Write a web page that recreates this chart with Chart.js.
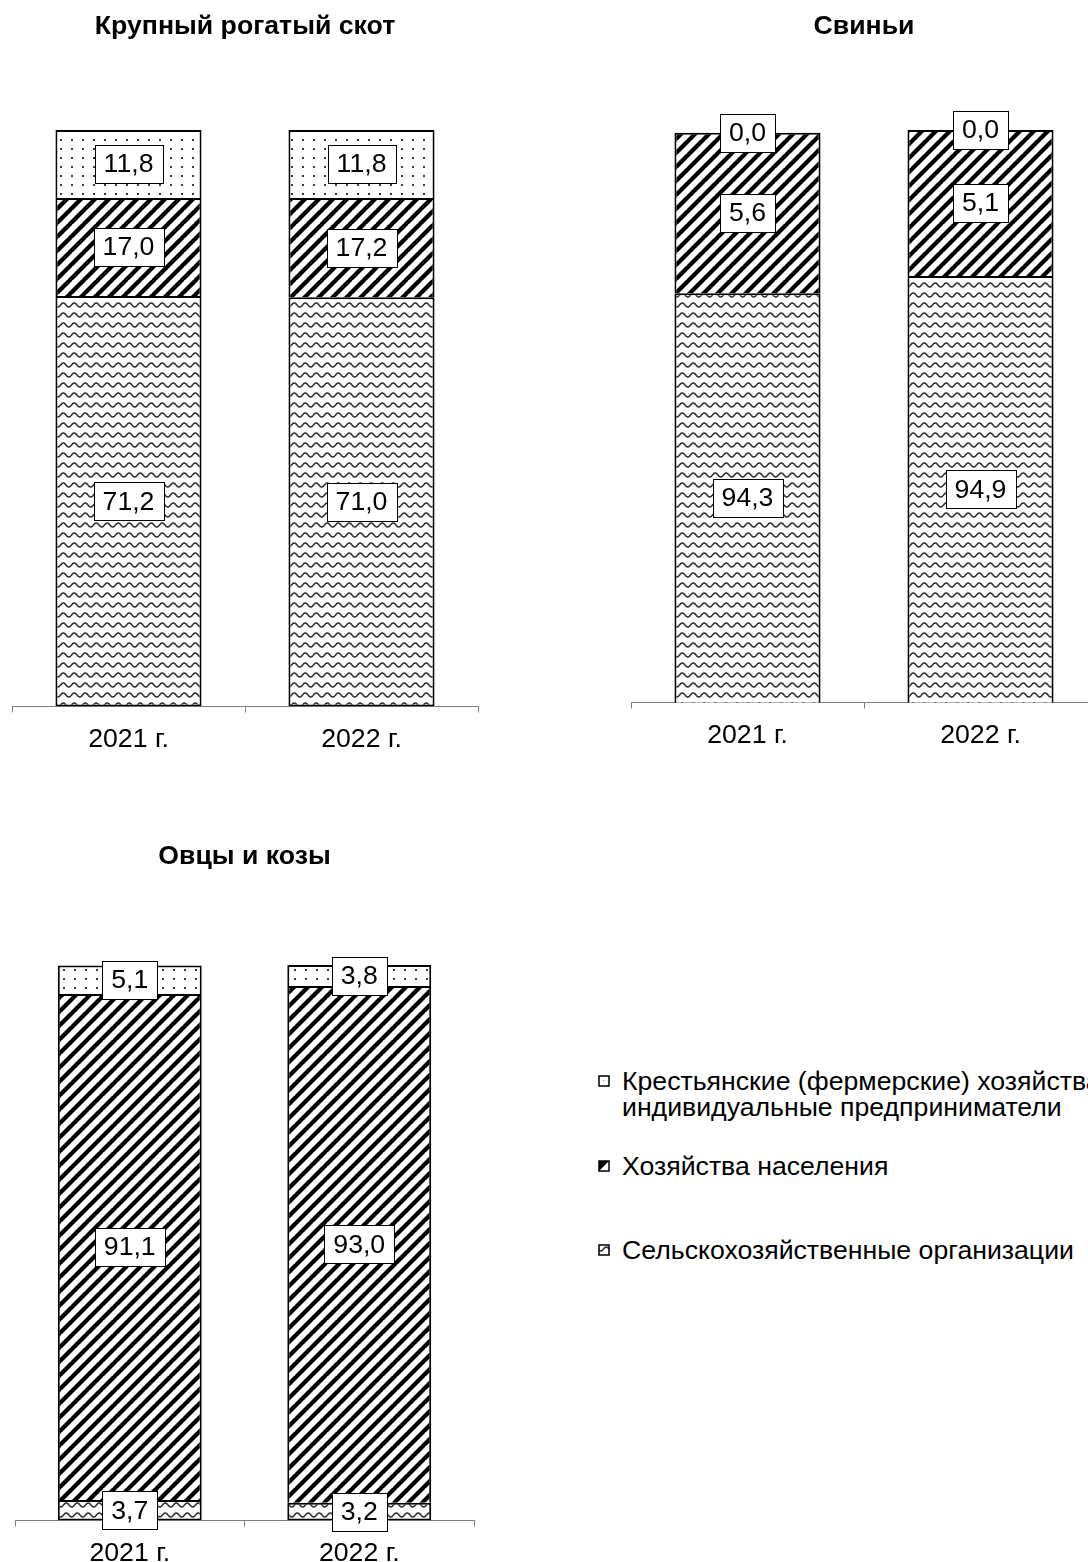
<!DOCTYPE html>
<html lang="ru">
<head>
<meta charset="utf-8">
<script src="https://cdn.jsdelivr.net/npm/chart.js@4.4.1/dist/chart.umd.min.js"></script>
<style>
  html, body { margin: 0; padding: 0; background: #fff; }
  body { width: 1088px; height: 1562px; overflow: hidden; position: relative;
         font-family: "Liberation Sans", Arial, sans-serif; }
  canvas { position: absolute; }
  .leg { position: absolute; left: 598px; font-size: 26.67px; line-height: 26px; white-space: nowrap; color: #000; }
  .leg canvas { position: absolute; left: 0; }
  .leg span { position: absolute; left: 24px; white-space: nowrap; }
</style>
</head>
<body>
<canvas id="c1" width="490" height="774" style="left:0px;top:0px"></canvas>
<canvas id="c2" width="490" height="774" style="left:619px;top:0px"></canvas>
<canvas id="c3" width="483" height="753" style="left:3px;top:830px"></canvas>

<div class="leg" style="top:1068px">
  <canvas id="m1" width="12" height="12" style="top:7px"></canvas>
  <span style="top:0">Крестьянские (фермерские) хозяйства и</span>
  <span style="top:26px">индивидуальные предприниматели</span>
</div>
<div class="leg" style="top:1153px">
  <canvas id="m2" width="12" height="12" style="top:7px"></canvas>
  <span style="top:0">Хозяйства населения</span>
</div>
<div class="leg" style="top:1237px">
  <canvas id="m3" width="12" height="12" style="top:7px"></canvas>
  <span style="top:0">Сельскохозяйственные организации</span>
</div>

<script>
// ---- data ----
const years = ['2021 г.', '2022 г.'];
const seriesNames = ['Сельскохозяйственные организации', 'Хозяйства населения', 'Крестьянские (фермерские) хозяйства и индивидуальные предприниматели'];

const cattleTitle = 'Крупный рогатый скот';
const cattleOrg  = [71.2, 71.0];
const cattlePop  = [17.0, 17.2];
const cattleFarm = [11.8, 11.8];
const cattleAxisMin = 0;

const pigsTitle = 'Свиньи';
const pigsOrg  = [94.3, 94.9];
const pigsPop  = [5.6, 5.1];
const pigsFarm = [0.0, 0.0];
const pigsAxisMin = 80;

const sheepTitle = 'Овцы и козы';
const sheepOrg  = [3.7, 3.2];
const sheepPop  = [91.1, 93.0];
const sheepFarm = [5.1, 3.8];
const sheepAxisMin = 0;

const axisMax = 100;

// ---- patterns ----
const FONT = '"Liberation Sans", Arial, sans-serif';
const FS = 26.67;
Chart.defaults.font.family = FONT;
Chart.defaults.color = '#000';

function makeTile(w, h, draw) {
  const c = document.createElement('canvas');
  c.width = w; c.height = h;
  const g = c.getContext('2d');
  g.fillStyle = '#fff'; g.fillRect(0, 0, w, h);
  draw(g, w, h);
  return c;
}
const waveTile = makeTile(11, 10, (g, w, h) => {
  g.strokeStyle = '#333'; g.lineWidth = 1.6;
  g.beginPath();
  for (let x = -1; x <= w + 1; x += 0.5) {
    const y = 5 + 2 * Math.sin((x / w) * Math.PI * 2);
    if (x === -1) g.moveTo(x, y); else g.lineTo(x, y);
  }
  g.stroke();
});
const stripeTile = makeTile(14, 14, (g, w, h) => {
  g.strokeStyle = '#000'; g.lineWidth = 4.3;
  g.beginPath();
  for (const k of [-w, 0, w]) { g.moveTo(k - 1, h + 1); g.lineTo(k + w + 1, -1); }
  g.stroke();
});
const dotTile = makeTile(11, 9, (g) => {
  g.fillStyle = '#3a3a3a'; g.fillRect(5, 4, 2, 2);
});

function patterns(ctx) {
  return {
    org: ctx.createPattern(waveTile, 'repeat'),
    pop: ctx.createPattern(stripeTile, 'repeat'),
    farm: ctx.createPattern(dotTile, 'repeat')
  };
}

// ---- boxed value labels ----
const boxLabels = {
  id: 'boxLabels',
  afterDatasetsDraw(chart) {
    const ctx = chart.ctx;
    const area = chart.chartArea;
    ctx.save();
    ctx.font = FS + 'px ' + FONT;
    ctx.textAlign = 'center';
    ctx.textBaseline = 'middle';
    chart.data.datasets.forEach((ds, i) => {
      const meta = chart.getDatasetMeta(i);
      meta.data.forEach((bar, j) => {
        const v = ds.data[j];
        const txt = v.toFixed(1).replace('.', ',');
        const p = bar.getProps(['x', 'y', 'base'], true);
        const top0 = Math.max(Math.min(p.y, p.base), area.top);
        const bot0 = Math.min(Math.max(p.y, p.base), area.bottom);
        const cy = (top0 + bot0) / 2;
        const w = Math.round(ctx.measureText(txt).width + 18);
        const h = 38;
        const left = Math.round(p.x - w / 2) + 0.5;
        const top = Math.round(cy - h / 2) + 0.5;
        ctx.fillStyle = '#fff';
        ctx.fillRect(left, top, w, h);
        ctx.strokeStyle = '#000';
        ctx.lineWidth = 1;
        ctx.strokeRect(left, top, w, h);
        ctx.fillStyle = '#000';
        ctx.fillText(txt, p.x, cy + 1);
      });
    });
    ctx.restore();
  }
};

function build(id, title, org, pop, farm, yMin, titleBottom, padBottom) {
  const canvas = document.getElementById(id);
  const ctx = canvas.getContext('2d');
  const pat = patterns(ctx);
  const common = { borderColor: '#000', borderWidth: 2, categoryPercentage: 1.0, barPercentage: 0.627 };
  return new Chart(ctx, {
    type: 'bar',
    data: {
      labels: years,
      datasets: [
        Object.assign({ label: seriesNames[0], data: org,  backgroundColor: pat.org,  borderSkipped: false }, common),
        Object.assign({ label: seriesNames[1], data: pop,  backgroundColor: pat.pop,  borderSkipped: 'start' }, common),
        Object.assign({ label: seriesNames[2], data: farm, backgroundColor: pat.farm, borderSkipped: 'start' }, common)
      ]
    },
    options: {
      responsive: false,
      animation: false,
      layout: { padding: { left: 12, right: 12, top: 0, bottom: padBottom } },
      plugins: {
        legend: { display: false },
        tooltip: { enabled: false },
        title: {
          display: true, text: title, color: '#000',
          font: { size: FS, weight: 'bold', family: FONT },
          padding: { top: 11, bottom: titleBottom }
        }
      },
      scales: {
        x: {
          stacked: true,
          grid: { offset: true, drawOnChartArea: false, drawTicks: true, tickLength: 6, color: '#808080', lineWidth: 1 },
          border: { display: true, color: '#808080', width: 1 },
          ticks: { padding: 11, color: '#000', font: { size: FS, family: FONT } }
        },
        y: { stacked: true, display: false, min: yMin, max: axisMax }
      }
    },
    plugins: [boxLabels]
  });
}

build('c1', cattleTitle, cattleOrg, cattlePop, cattleFarm, cattleAxisMin, 87, 7.4);
build('c2', pigsTitle, pigsOrg, pigsPop, pigsFarm, pigsAxisMin, 87, 11.4);
build('c3', sheepTitle, sheepOrg, sheepPop, sheepFarm, sheepAxisMin, 92, 2.4);

// ---- legend markers ----
function marker(id, kind) {
  const c = document.getElementById(id);
  const g = c.getContext('2d');
  g.fillStyle = '#fff'; g.fillRect(0, 0, 12, 12);
  if (kind === 'pop') {
    g.fillStyle = '#000';
    g.beginPath(); g.moveTo(1, 1); g.lineTo(11, 1); g.lineTo(1, 11); g.closePath(); g.fill();
  } else if (kind === 'org') {
    g.fillStyle = g.createPattern(waveTile, 'repeat');
    g.fillRect(1, 1, 10, 10);
  } else {
    g.fillStyle = '#888'; g.fillRect(5, 5, 1, 1);
  }
  g.strokeStyle = '#000'; g.lineWidth = 1.5;
  g.strokeRect(1, 1, 10, 10);
}
marker('m1', 'farm');
marker('m2', 'pop');
marker('m3', 'org');
</script>
</body>
</html>
